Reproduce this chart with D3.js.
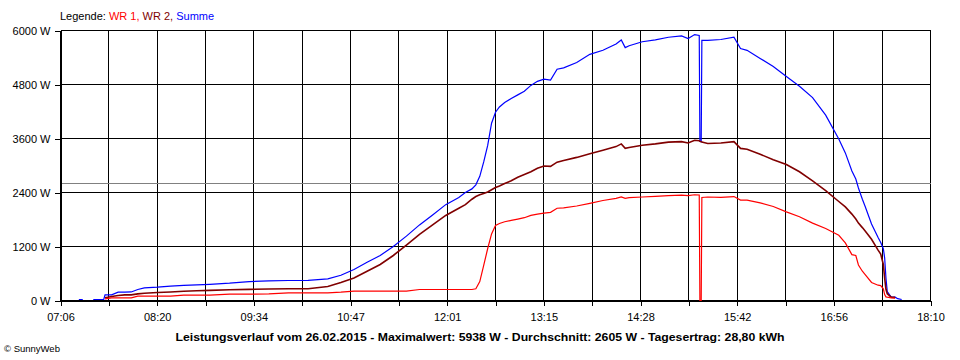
<!DOCTYPE html>
<html><head><meta charset="utf-8">
<script src="https://cdn.jsdelivr.net/npm/d3@7"></script>
<style>
body{margin:0;background:#fff}
svg{display:block}
text{font-family:"Liberation Sans",Arial,sans-serif}
</style>
</head><body>
<svg id="c" width="960" height="360"></svg>
<script>
const times=["07:20","07:23","07:30","07:31","07:39","07:40","07:45","07:50","07:55","08:00","08:05","08:10","08:20","08:30","08:40","08:50","09:00","09:15","09:30","09:45","10:00","10:15","10:30","10:40","10:50","11:00","11:10","11:20","11:30","11:40","11:50","12:00","12:10","12:15","12:20","12:23","12:26","12:29","12:32","12:35","12:38","12:41","12:45","12:50","12:55","13:00","13:05","13:10","13:15","13:20","13:25","13:30","13:40","13:50","14:00","14:10","14:14","14:17","14:20","14:30","14:40","14:50","15:00","15:05","15:10","15:13:30","15:14:00","15:15:00","15:15:30","15:20","15:30","15:40","15:45","15:50","16:00","16:10","16:20","16:30","16:40","16:50","17:00","17:05","17:10","17:13","17:15","17:18","17:20","17:25","17:30","17:32","17:34","17:35","17:36","17:37","17:40","17:43","17:45","17:48"];
const wr1=[null,null,null,null,null,37,59,59,59,59,96,96,96,96,118,118,118,141,141,148,170,170,170,185,207,207,207,207,207,244,244,244,244,244,244,260,420,780,1150,1480,1667,1710,1750,1780,1810,1840,1890,1920,1940,1960,2050,2060,2100,2160,2222,2270,2300,2270,2285,2300,2315,2330,2340,2330,2350,2345,0,0,2290,2300,2290,2310,2230,2230,2170,2090,1970,1860,1720,1600,1450,1280,1020,1000,790,650,580,400,340,330,260,130,80,74,60,50,null,null];
const wr2=[null,null,null,null,null,60,89,110,126,126,148,160,178,190,207,215,225,240,248,255,260,262,310,400,500,650,800,1000,1230,1470,1680,1890,2050,2130,2250,2310,2350,2380,2410,2460,2510,2545,2600,2660,2740,2800,2860,2940,2990,2980,3074,3110,3180,3260,3340,3420,3480,3380,3400,3450,3480,3520,3530,3500,3560,3550,3540,3530,3520,3490,3500,3530,3380,3360,3250,3130,3020,2860,2660,2440,2200,2080,1920,1810,1720,1620,1550,1360,1120,1030,800,500,250,150,74,70,null,null];
const summe=[22,22,null,22,22,125,125,185,185,190,245,280,296,320,335,348,360,385,420,435,444,446,481,560,690,850,1000,1200,1430,1680,1900,2130,2290,2400,2480,2570,2760,3080,3440,3940,4185,4300,4400,4490,4570,4650,4780,4870,4920,4900,5140,5170,5290,5470,5560,5700,5790,5620,5660,5750,5790,5850,5880,5820,5910,5890,3540,3530,5780,5780,5800,5850,5600,5560,5380,5200,4980,4760,4510,4120,3590,3280,2880,2700,2500,2250,2100,1700,1400,1290,1150,950,500,200,74,74,40,22];
const yTicks=[0,1200,2400,3600,4800,6000];
const xTickLabels=["07:06","08:20","09:34","10:47","12:01","13:15","14:28","15:42","16:56","18:10"];
const average=2605;
const legendLabels=["Legende: ","WR 1, ","WR 2, ","Summe"];
const caption="Leistungsverlauf vom 26.02.2015 - Maximalwert: 5938 W - Durchschnitt: 2605 W - Tagesertrag: 28,80 kWh";
const copyright="\u00A9 SunnyWeb";

const toMin=s=>+s.slice(0,2)*60+ +s.slice(3,5)+(s.length>5?+s.slice(6,8)/60:0);
const t0=toMin(xTickLabels[0]), t1=toMin(xTickLabels[xTickLabels.length-1]);
const nDiv=(xTickLabels.length-1)*2;
const gridTimes=d3.range(nDiv+1).map(i=>t0+i*(t1-t0)/nDiv);

const svg=d3.select("#c");
const L=60.5,R=930.5,T=30.5,B=300.5;
const x=d3.scaleLinear().domain([t0,t1]).range([L,R]);
const y=d3.scaleLinear().domain([0,6000]).range([B,T]);

// grid
const g=svg.append("g").attr("shape-rendering","crispEdges");
g.selectAll("line.h").data(yTicks).join("line").attr("class","h")
 .attr("x1",L).attr("x2",R).attr("y1",d=>y(d)).attr("y2",d=>y(d)).attr("stroke","#000");
g.selectAll("line.v").data(gridTimes).join("line").attr("class","v")
 .attr("x1",d=>x(d)).attr("x2",d=>x(d)).attr("y1",T).attr("y2",B).attr("stroke","#000");
g.append("line").attr("x1",L).attr("x2",R).attr("y1",y(average)).attr("y2",y(average)).attr("stroke","#808080");

// axes
const ya=svg.append("g").attr("transform",`translate(${L},0)`)
 .call(d3.axisLeft(y).tickValues(yTicks).tickSize(6).tickPadding(4).tickFormat(d=>d+" W"));
const xa=svg.append("g").attr("transform",`translate(0,${B})`)
 .call(d3.axisBottom(x).tickValues(gridTimes).tickSize(5).tickPadding(8).tickFormat((d,i)=>i%2===0?xTickLabels[i/2]:""));
[ya,xa].forEach(a=>{
  a.select(".domain").attr("stroke","#000").attr("shape-rendering","crispEdges");
  a.selectAll(".tick line").attr("stroke","#000").attr("shape-rendering","crispEdges");
  a.selectAll("text").attr("font-size",11).attr("fill","#000").attr("font-family","'Liberation Sans',Arial,sans-serif");
});

// data lines
const tm=times.map(toMin);
const mk=arr=>d3.line().defined((d,i)=>arr[i]!=null).x((d,i)=>x(tm[i])).y((d,i)=>y(arr[i]))(arr);
const series=[
  {v:summe,c:"#0000ff",w:1.2},
  {v:wr2,c:"#800000",w:1.6},
  {v:wr1,c:"#ff0000",w:1.2}
];
svg.append("g").selectAll("path").data(series).join("path")
 .attr("d",d=>mk(d.v)).attr("fill","none").attr("stroke",d=>d.c).attr("stroke-width",d=>d.w)
 .attr("stroke-linejoin","miter");

// legend
const legColors=["#000","#ff0000","#800000","#0000ff"];
const lt=svg.append("text").attr("x",60).attr("y",20).attr("font-size",11).style("white-space","pre");
lt.selectAll("tspan").data(legendLabels).join("tspan").attr("fill",(d,i)=>legColors[i]).text(d=>d);

// caption
svg.append("text").attr("x",480).attr("y",341).attr("text-anchor","middle")
 .attr("font-size",11.5).attr("font-weight","bold").attr("textLength",609).attr("lengthAdjust","spacingAndGlyphs")
 .text(caption);
svg.append("text").attr("x",4).attr("y",352).attr("font-size",9.5).attr("fill","#000").text(copyright);
</script>
</body></html>
